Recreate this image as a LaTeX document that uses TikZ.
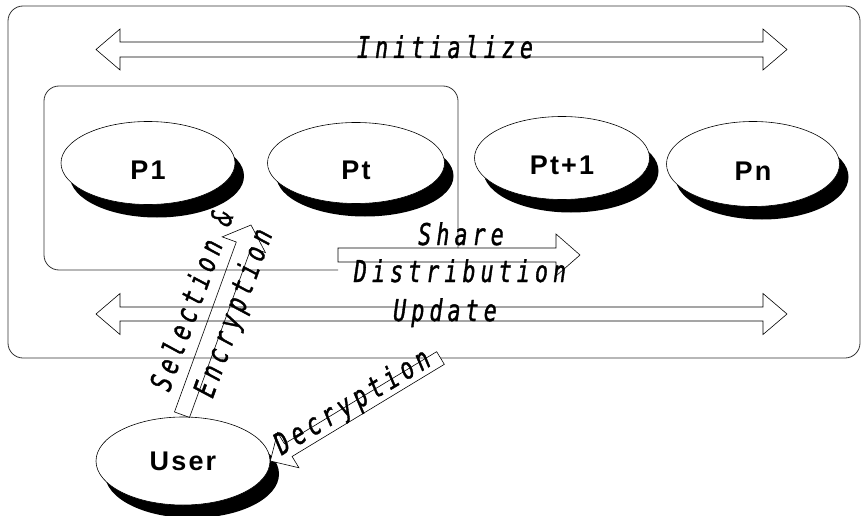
\documentclass[tikz,border=0pt]{standalone}
\usepackage{fontspec}
\usetikzlibrary{calc,shadows,shapes.geometric}
\newfontfamily\pfont{Liberation Sans}[LetterSpace=8]
\newfontfamily\mfont{DejaVu Sans Mono}[FakeStretch=0.72, LetterSpace=17, FakeBold=1.2]

% block arrow from tail #2 to tip #3: shaft half width #4, head half width #5, head length #6
\newcommand\sblock[6]{%
  \coordinate (hb) at ($(#3)!#6!(#2)$);
  \draw[#1] ($(#2)!#4!90:(#3)$) -- ($(hb)!#4!90:(#3)$) -- ($(hb)!#5!90:(#3)$) -- (#3)
    -- ($(hb)!#5!-90:(#3)$) -- ($(hb)!#4!-90:(#3)$) -- ($(#2)!#4!-90:(#3)$) -- cycle;}
% double-headed block arrow between tips #2 and #3
\newcommand\dblock[6]{%
  \coordinate (ha) at ($(#2)!#6!(#3)$);
  \coordinate (hb) at ($(#3)!#6!(#2)$);
  \draw[#1] (#2) -- ($(ha)!#5!90:(#3)$) -- ($(ha)!#4!90:(#3)$) -- ($(hb)!#4!90:(#3)$)
    -- ($(hb)!#5!90:(#3)$) -- (#3) -- ($(hb)!#5!-90:(#3)$) -- ($(hb)!#4!-90:(#3)$)
    -- ($(ha)!#4!-90:(#3)$) -- ($(ha)!#5!-90:(#3)$) -- cycle;}

\tikzset{
  party/.style={ellipse, draw=black, line width=0.6pt, fill=white, inner sep=0pt,
    minimum width=174pt, minimum height=83pt,
    font=\pfont\bfseries\fontsize{27}{32}\selectfont, text height=33pt, text depth=0pt,
    drop shadow={shadow xshift=9pt, shadow yshift=-13pt, fill=black, opacity=1}},
  frame/.style={draw=black!80, line width=0.8pt, rounded corners=15pt},
  blk/.style={draw=black, line width=0.6pt, line join=miter},
  lbl/.style={font=\mfont\itshape\fontsize{30}{40}\selectfont, inner sep=0pt},
}

\begin{document}
\begin{tikzpicture}[x=1pt, y=-1pt]
\useasboundingbox (0,0) rectangle (861,516);

% outer group and inner group of parties
\draw[frame] (8,6) rectangle (860,358);
\draw[frame] (338,270) -- (44,270) -- (44,86) -- (458,86) -- (458,248);

% parties
\node[party] (p1) at (148,163) {P1};
\node[party, minimum width=177pt, minimum height=81pt] (pt) at (356,163) {Pt};
\node[party, minimum width=175pt] (pt1) at (562,158) {Pt+1};
\node[party, minimum width=173pt, minimum height=85pt] (pn) at (753,164) {Pn};
\node[party, minimum height=88pt, text height=19.5pt] (user) at (183,461) {User};

% arrow end points
\coordinate (initL) at (96,49.5);
\coordinate (initR) at (787,49.5);
\coordinate (updL) at (96,314);
\coordinate (updR) at (787,314);
\coordinate (shT) at (338,255);
\coordinate (shH) at (580,255);
\coordinate (selT) at ($(user.north)+(-1,-2)$);
\coordinate (selH) at (251,225);
\coordinate (decT) at (440.5,358);

% block arrows
\dblock{blk}{initL}{initR}{7.5pt}{20.5pt}{24pt}
\dblock{blk}{updL}{updR}{7pt}{20.5pt}{24pt}
\sblock{blk}{shT}{shH}{7pt}{21pt}{24pt}
\sblock{blk}{selT}{selH}{8pt}{23pt}{21pt}
\sblock{blk, fill=white}{decT}{user.east}{7.4pt}{20.6pt}{21pt}

% labels
\node[lbl, anchor=base] (tinit) at (445,58) {Initialize};
\node[lbl, anchor=base] (tshare) at (461,245) {Share};
\node[lbl, anchor=base] (tdist) at (460,282) {Distribution};
\node[lbl, anchor=base] (tupd) at (445,321) {Update};
\node[lbl, rotate=70] (tsel) at (191,300) {Selection \&};
\node[lbl, rotate=70] (tenc) at (235,313.5) {Encryption};
\node[lbl, rotate=31] (tdec) at (353,403) {Decryption};
\end{tikzpicture}
\end{document}
